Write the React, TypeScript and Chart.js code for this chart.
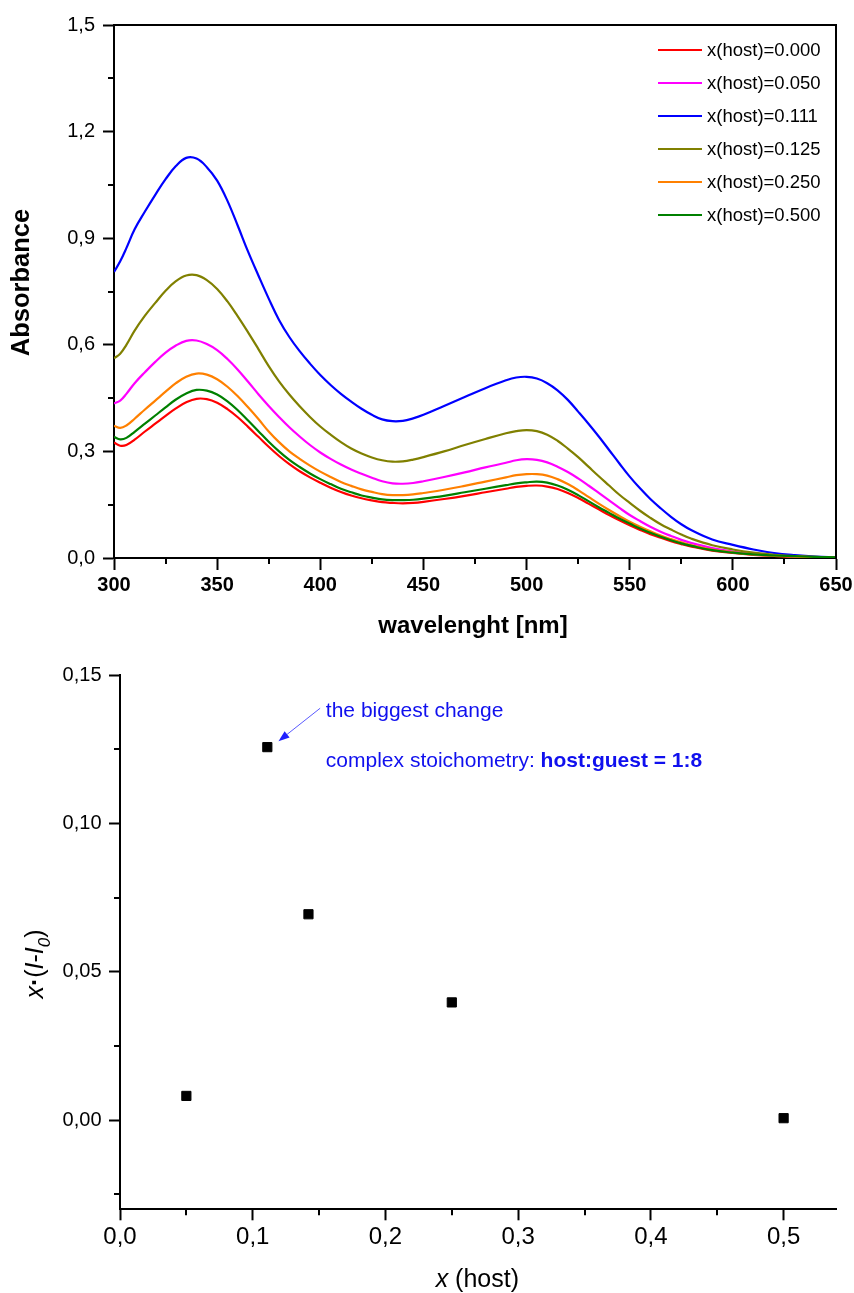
import React, { useEffect, useRef } from 'react';
import { Chart, registerables } from 'chart.js';

Chart.register(...registerables);

const FONT = "'Liberation Sans', Arial, Helvetica, sans-serif";

// ---------- top chart data (absorption spectra) ----------
const wavelengths = [300, 303, 306, 310, 315, 320, 325, 330, 335, 340, 345, 350, 355, 360, 365, 370, 375, 380, 385, 390, 395, 400, 405, 410, 415, 420, 425, 430, 435, 440, 445, 450, 460, 470, 480, 490, 495, 500, 505, 510, 515, 520, 525, 530, 535, 540, 545, 550, 555, 560, 565, 570, 575, 580, 590, 600, 610, 620, 630, 640, 650];

const absHost000 = [0.325, 0.316, 0.318, 0.333, 0.356, 0.378, 0.4, 0.421, 0.438, 0.448, 0.447, 0.437, 0.419, 0.396, 0.369, 0.341, 0.313, 0.287, 0.264, 0.244, 0.227, 0.212, 0.198, 0.186, 0.176, 0.168, 0.162, 0.157, 0.155, 0.154, 0.155, 0.158, 0.166, 0.175, 0.185, 0.195, 0.2, 0.203, 0.204, 0.201, 0.194, 0.183, 0.169, 0.153, 0.137, 0.121, 0.106, 0.092, 0.079, 0.067, 0.057, 0.047, 0.039, 0.032, 0.021, 0.014, 0.009, 0.006, 0.004, 0.002, 0.001];
const absHost050 = [0.435, 0.443, 0.462, 0.492, 0.523, 0.552, 0.578, 0.598, 0.611, 0.612, 0.602, 0.585, 0.56, 0.53, 0.496, 0.461, 0.428, 0.397, 0.368, 0.342, 0.318, 0.297, 0.279, 0.263, 0.249, 0.237, 0.226, 0.216, 0.21, 0.209, 0.211, 0.216, 0.228, 0.241, 0.255, 0.268, 0.275, 0.278, 0.276, 0.269, 0.257, 0.242, 0.224, 0.204, 0.183, 0.162, 0.141, 0.121, 0.104, 0.088, 0.074, 0.062, 0.051, 0.042, 0.028, 0.018, 0.011, 0.007, 0.004, 0.002, 0.001];
const absHost111 = [0.805, 0.835, 0.872, 0.925, 0.975, 1.022, 1.066, 1.103, 1.126, 1.124, 1.1, 1.062, 1.005, 0.935, 0.862, 0.795, 0.73, 0.67, 0.622, 0.582, 0.547, 0.515, 0.487, 0.462, 0.44, 0.42, 0.403, 0.39, 0.385, 0.386, 0.393, 0.403, 0.428, 0.453, 0.478, 0.5, 0.508, 0.51, 0.505, 0.492, 0.472, 0.445, 0.412, 0.378, 0.342, 0.304, 0.266, 0.229, 0.196, 0.166, 0.14, 0.116, 0.095, 0.078, 0.052, 0.037, 0.024, 0.014, 0.008, 0.004, 0.002];
const absHost125 = [0.562, 0.575, 0.6, 0.64, 0.682, 0.718, 0.752, 0.779, 0.795, 0.796, 0.782, 0.757, 0.722, 0.68, 0.635, 0.588, 0.54, 0.497, 0.46, 0.427, 0.397, 0.37, 0.347, 0.326, 0.308, 0.294, 0.283, 0.275, 0.271, 0.272, 0.277, 0.284, 0.3, 0.318, 0.335, 0.351, 0.357, 0.36, 0.357, 0.347, 0.33, 0.308, 0.284, 0.257, 0.23, 0.204, 0.178, 0.155, 0.133, 0.113, 0.095, 0.08, 0.066, 0.054, 0.036, 0.024, 0.015, 0.009, 0.005, 0.003, 0.001];
const absHost250 = [0.372, 0.366, 0.373, 0.392, 0.418, 0.443, 0.468, 0.492, 0.51, 0.519, 0.516, 0.503, 0.482, 0.455, 0.424, 0.391, 0.356, 0.326, 0.3, 0.279, 0.26, 0.243, 0.228, 0.214, 0.203, 0.193, 0.186, 0.18, 0.177, 0.177, 0.179, 0.183, 0.192, 0.203, 0.215, 0.227, 0.233, 0.236, 0.236, 0.232, 0.222, 0.208, 0.191, 0.172, 0.153, 0.135, 0.118, 0.102, 0.088, 0.075, 0.063, 0.053, 0.044, 0.036, 0.024, 0.016, 0.01, 0.006, 0.004, 0.002, 0.001];
const absHost500 = [0.341, 0.334, 0.338, 0.355, 0.378, 0.401, 0.424, 0.446, 0.463, 0.473, 0.471, 0.46, 0.441, 0.416, 0.387, 0.357, 0.327, 0.3, 0.276, 0.256, 0.238, 0.222, 0.208, 0.195, 0.185, 0.176, 0.17, 0.165, 0.163, 0.163, 0.164, 0.167, 0.175, 0.185, 0.195, 0.205, 0.21, 0.213, 0.215, 0.212, 0.204, 0.192, 0.177, 0.16, 0.143, 0.127, 0.111, 0.097, 0.083, 0.071, 0.06, 0.05, 0.041, 0.034, 0.022, 0.015, 0.01, 0.007, 0.005, 0.003, 0.002];

const seriesLabels = ['x(host)=0.000', 'x(host)=0.050', 'x(host)=0.111', 'x(host)=0.125', 'x(host)=0.250', 'x(host)=0.500'];
const seriesColors = ['#ff0000', '#ff00ff', '#0000ff', '#808000', '#ff8000', '#008000'];
const seriesValues = [absHost000, absHost050, absHost111, absHost125, absHost250, absHost500];

const topXTicks = [300, 350, 400, 450, 500, 550, 600, 650];
const topXMinor = [325, 375, 425, 475, 525, 575, 625];
const topYTicks = [0, 0.3, 0.6, 0.9, 1.2, 1.5];
const topYMinor = [0.15, 0.45, 0.75, 1.05, 1.35];

// ---------- bottom chart data (Job plot) ----------
const hostFraction = [0.05, 0.111, 0.142, 0.25, 0.5];
const jobValue = [0.0082, 0.1257, 0.0694, 0.0397, 0.0007];

const botXTicks = [0, 0.1, 0.2, 0.3, 0.4, 0.5];
const botXMinor = [0.05, 0.15, 0.25, 0.35, 0.45];
const botYTicks = [0, 0.05, 0.1, 0.15];
const botYMinor = [-0.025, 0.025, 0.075, 0.125];

// annotation anchors (data units of the bottom chart)
const noteAnchor = { x: 0.1551, y1: 0.1357, y2: 0.1189 };
const arrowFrom = { x: 0.1508, y: 0.1388 };
const arrowTo = { x: 0.1194, y: 0.1277 };

const commaFmt = (digits: number) => (v: any) => Number(v).toFixed(digits).replace('.', ',');

function setTicks(values: number[]) {
  return (scale: any) => {
    scale.ticks = values.map((v) => ({ value: v }));
  };
}
function fixWidth(w: number) {
  return (scale: any) => {
    scale.width = w;
    scale.paddingTop = 0;
    scale.paddingBottom = 0;
    scale.paddingLeft = 0;
    scale.paddingRight = 0;
  };
}
function fixHeight(h: number) {
  return (scale: any) => {
    scale.height = h;
    scale.paddingTop = 0;
    scale.paddingBottom = 0;
    scale.paddingLeft = 0;
    scale.paddingRight = 0;
  };
}

function drawMinorTicks(ctx: CanvasRenderingContext2D, scale: any, values: number[], area: any, len: number) {
  ctx.save();
  ctx.strokeStyle = '#000';
  ctx.lineWidth = 2;
  ctx.beginPath();
  values.forEach((v) => {
    const p = Math.round(scale.getPixelForValue(v));
    if (scale.isHorizontal()) {
      ctx.moveTo(p, area.bottom);
      ctx.lineTo(p, area.bottom + len);
    } else {
      ctx.moveTo(area.left, p);
      ctx.lineTo(area.left - len, p);
    }
  });
  ctx.stroke();
  ctx.restore();
}

const axisCommon = (tickLen: number) => ({
  grid: {
    display: true,
    drawOnChartArea: false,
    drawTicks: true,
    tickLength: tickLen,
    tickWidth: 2,
    tickColor: '#000',
    color: '#000',
  },
  border: { display: true, color: '#000', width: 2 },
});

const topDecor = {
  id: 'topDecor',
  afterDraw(chart: any) {
    const { ctx, chartArea: a } = chart;
    ctx.save();
    ctx.strokeStyle = '#000';
    ctx.lineWidth = 2;
    ctx.beginPath();
    ctx.moveTo(a.left, a.top);
    ctx.lineTo(a.right, a.top);
    ctx.lineTo(a.right, a.bottom);
    ctx.stroke();
    drawMinorTicks(ctx, chart.scales.x, topXMinor, a, 6);
    drawMinorTicks(ctx, chart.scales.y, topYMinor, a, 6);

    // legend
    const ds = chart.data.datasets;
    ctx.font = `18.5px ${FONT}`;
    ctx.textAlign = 'left';
    ctx.textBaseline = 'middle';
    ds.forEach((d: any, i: number) => {
      const y = a.top + 25 + i * 33;
      ctx.strokeStyle = d.borderColor;
      ctx.lineWidth = 2;
      ctx.beginPath();
      ctx.moveTo(a.right - 178, y);
      ctx.lineTo(a.right - 134, y);
      ctx.stroke();
      ctx.fillStyle = '#000';
      ctx.fillText(d.label, a.right - 129, y + 1);
    });

    // axis titles
    ctx.fillStyle = '#000';
    ctx.font = `bold 24px ${FONT}`;
    ctx.textAlign = 'center';
    ctx.textBaseline = 'alphabetic';
    ctx.fillText('wavelenght [nm]', 473, 633);
    ctx.save();
    ctx.translate(22, 282.5);
    ctx.rotate(-Math.PI / 2);
    ctx.font = `bold 25.5px ${FONT}`;
    ctx.textBaseline = 'middle';
    ctx.textAlign = 'center';
    ctx.fillText('Absorbance', 0, 0);
    ctx.restore();
    ctx.restore();
  },
};

function drawRich(ctx: CanvasRenderingContext2D, segs: { t: string; f: string; dy?: number }[], cx: number, baseline: number) {
  let total = 0;
  segs.forEach((s) => {
    ctx.font = s.f;
    total += ctx.measureText(s.t).width;
  });
  let x = cx - total / 2;
  ctx.textAlign = 'left';
  ctx.textBaseline = 'alphabetic';
  segs.forEach((s) => {
    ctx.font = s.f;
    ctx.fillText(s.t, x, baseline + (s.dy || 0));
    x += ctx.measureText(s.t).width;
  });
}

const botDecor = {
  id: 'botDecor',
  afterDraw(chart: any) {
    const { ctx, chartArea: a } = chart;
    const sx = chart.scales.x;
    const sy = chart.scales.y;
    ctx.save();
    drawMinorTicks(ctx, sx, botXMinor, a, 6);
    drawMinorTicks(ctx, sy, botYMinor, a, 6);

    // annotation
    const blue = '#1010ee';
    ctx.fillStyle = blue;
    ctx.textAlign = 'left';
    ctx.textBaseline = 'alphabetic';
    const tx = sx.getPixelForValue(noteAnchor.x);
    ctx.font = `21px ${FONT}`;
    ctx.fillText('the biggest change', tx, sy.getPixelForValue(noteAnchor.y1));
    const y2 = sy.getPixelForValue(noteAnchor.y2);
    const part1 = 'complex stoichometry: ';
    ctx.fillText(part1, tx, y2);
    const w1 = ctx.measureText(part1).width;
    ctx.font = `bold 21px ${FONT}`;
    ctx.fillText('host:guest = 1:8', tx + w1, y2);

    // arrow
    const x0 = sx.getPixelForValue(arrowFrom.x);
    const y0 = sy.getPixelForValue(arrowFrom.y);
    const x1 = sx.getPixelForValue(arrowTo.x);
    const y1 = sy.getPixelForValue(arrowTo.y);
    const ang = Math.atan2(y1 - y0, x1 - x0);
    const headLen = 11;
    const headW = 4;
    const bx = x1 - headLen * Math.cos(ang);
    const by = y1 - headLen * Math.sin(ang);
    ctx.strokeStyle = '#5a5aff';
    ctx.lineWidth = 1;
    ctx.beginPath();
    ctx.moveTo(x0, y0);
    ctx.lineTo(bx, by);
    ctx.stroke();
    ctx.fillStyle = '#2020ff';
    ctx.beginPath();
    ctx.moveTo(x1, y1);
    ctx.lineTo(bx + headW * Math.sin(ang), by - headW * Math.cos(ang));
    ctx.lineTo(bx - headW * Math.sin(ang), by + headW * Math.cos(ang));
    ctx.closePath();
    ctx.fill();

    // axis titles
    ctx.fillStyle = '#000';
    drawRich(
      ctx,
      [
        { t: 'x', f: `italic 25px ${FONT}` },
        { t: ' (host)', f: `25px ${FONT}` },
      ],
      (a.left + a.right) / 2 - 1,
      637,
    );
    ctx.save();
    ctx.translate(43, 314);
    ctx.rotate(-Math.PI / 2);
    drawRich(
      ctx,
      [
        { t: 'x', f: `italic 25px ${FONT}` },
        { t: '\u00b7', f: `bold 25px ${FONT}` },
        { t: '(', f: `25px ${FONT}` },
        { t: 'I', f: `italic 25px ${FONT}` },
        { t: '-', f: `25px ${FONT}` },
        { t: 'I', f: `italic 25px ${FONT}` },
        { t: '0', f: `italic 17px ${FONT}`, dy: 7 },
        { t: ')', f: `25px ${FONT}` },
      ],
      0,
      0,
    );
    ctx.restore();
    ctx.restore();
  },
};

export default function App() {
  const topRef = useRef<HTMLCanvasElement | null>(null);
  const botRef = useRef<HTMLCanvasElement | null>(null);

  useEffect(() => {
    Chart.defaults.font.family = FONT;
    Chart.defaults.color = '#000';

    const datasets = seriesValues.map((vals, i) => ({
      label: seriesLabels[i],
      data: wavelengths.map((w, k) => ({ x: w, y: vals[k] })),
      borderColor: seriesColors[i],
      backgroundColor: seriesColors[i],
      borderWidth: 2.2,
      pointRadius: 0,
      tension: 0.4,
      fill: false,
      order: seriesValues.length - i,
    }));

    const top = new Chart(topRef.current as HTMLCanvasElement, {
      type: 'line',
      data: { datasets },
      options: {
        responsive: false,
        maintainAspectRatio: false,
        animation: false,
        events: [],
        layout: { padding: { top: 25, right: 18, left: 0, bottom: 0 } },
        plugins: { legend: { display: false }, tooltip: { enabled: false } },
        scales: {
          x: {
            type: 'linear',
            min: 300,
            max: 650,
            afterBuildTicks: setTicks(topXTicks),
            afterFit: fixHeight(92),
            ...axisCommon(12),
            ticks: {
              autoSkip: false,
              maxRotation: 0,
              padding: 3,
              font: { family: FONT, size: 20, weight: 'bold' },
              color: '#000',
              callback: (v: any) => String(v),
            },
          },
          y: {
            type: 'linear',
            min: 0,
            max: 1.5,
            afterBuildTicks: setTicks(topYTicks),
            afterFit: fixWidth(114),
            ...axisCommon(11),
            ticks: {
              autoSkip: false,
              padding: 8,
              font: { family: FONT, size: 20 },
              color: '#000',
              callback: commaFmt(1),
            },
          },
        },
      } as any,
      plugins: [topDecor],
    });

    const bot = new Chart(botRef.current as HTMLCanvasElement, {
      type: 'scatter',
      data: {
        datasets: [
          {
            label: 'x(I-I0)',
            data: hostFraction.map((h, i) => ({ x: h, y: jobValue[i] })),
            pointStyle: 'rect',
            pointRadius: 6.5,
            borderWidth: 1,
            borderColor: '#000',
            backgroundColor: '#000',
          },
        ],
      },
      options: {
        responsive: false,
        maintainAspectRatio: false,
        animation: false,
        events: [],
        layout: { padding: { top: 25, right: 17.3, left: 0, bottom: 0 } },
        plugins: { legend: { display: false }, tooltip: { enabled: false } },
        scales: {
          x: {
            type: 'linear',
            min: 0,
            max: 0.54,
            afterBuildTicks: setTicks(botXTicks),
            afterFit: fixHeight(83.7),
            ...axisCommon(11),
            ticks: {
              autoSkip: false,
              maxRotation: 0,
              padding: 3,
              font: { family: FONT, size: 24 },
              color: '#000',
              callback: commaFmt(1),
            },
          },
          y: {
            type: 'linear',
            min: -0.03,
            max: 0.15,
            afterBuildTicks: setTicks(botYTicks),
            afterFit: fixWidth(120),
            ...axisCommon(11),
            ticks: {
              autoSkip: false,
              padding: 7.5,
              font: { family: FONT, size: 20 },
              color: '#000',
              callback: commaFmt(2),
            },
          },
        },
      } as any,
      plugins: [botDecor],
    });

    return () => {
      top.destroy();
      bot.destroy();
    };
  }, []);

  return (
    <div style={{ position: 'absolute', left: 0, top: 0, width: 854, height: 1293, background: '#fff' }}>
      <canvas ref={topRef} width={854} height={650} style={{ position: 'absolute', left: 0, top: 0 }} />
      <canvas ref={botRef} width={854} height={643} style={{ position: 'absolute', left: 0, top: 650 }} />
    </div>
  );
}
